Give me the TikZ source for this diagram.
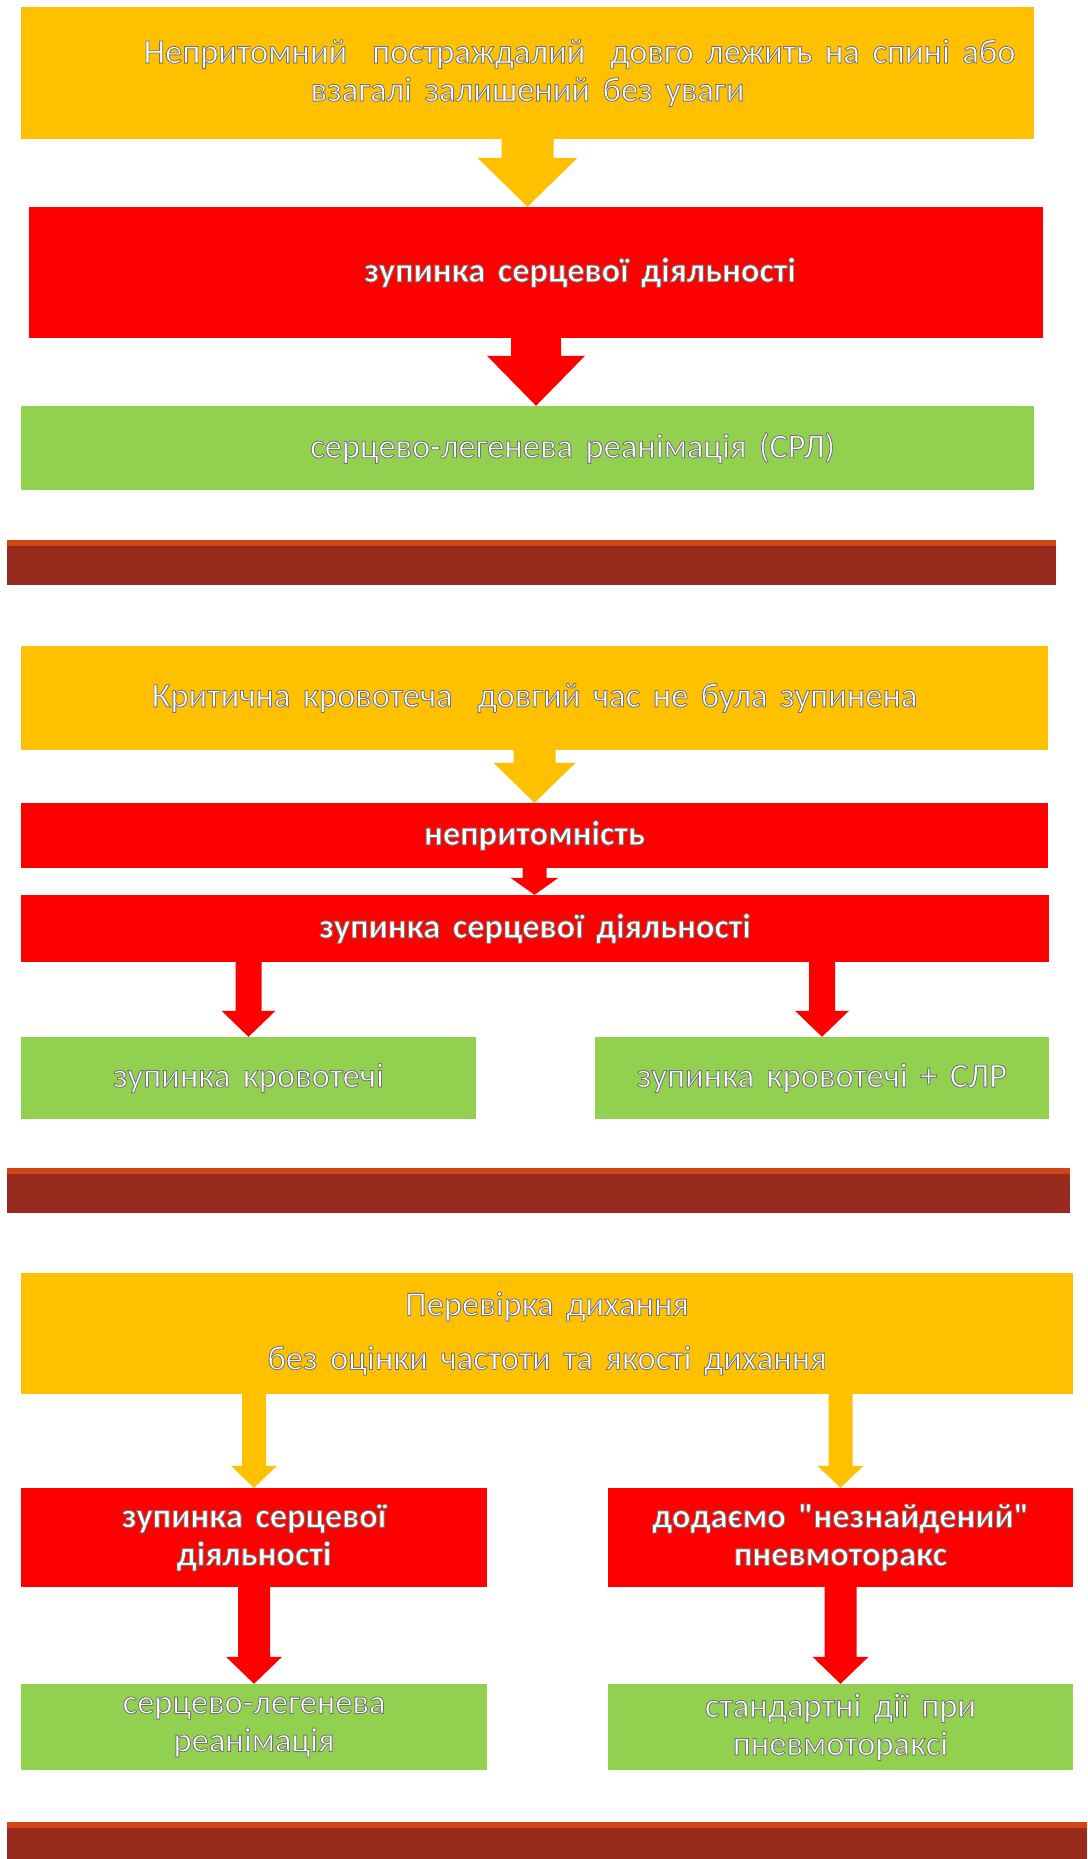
\documentclass[tikz,border=0pt]{standalone}
\usepackage{fontspec}
\setmainfont{Carlito}
\newfontface\glowreg{Carlito}[FakeBold=2.5, WordSpace=1.6]
\newfontface\glowbold{Carlito Bold}[FakeBold=2.5, WordSpace=1.6]
\usetikzlibrary{calc}

\definecolor{yelcol}{RGB}{255,192,0}
\definecolor{redcol}{RGB}{255,0,0}
\definecolor{grncol}{RGB}{146,208,80}
\definecolor{sepdark}{RGB}{153,43,30}
\definecolor{seporange}{RGB}{208,70,20}

% block arrow: colour, start, end, half shaft, half head, head length
\newcommand{\blockarrow}[6]{%
  \fill[#1] ($(#2)+(-#4,0)$) -- ($(#3)+(-#4,-#6)$) -- ($(#3)+(-#5,-#6)$) -- (#3)
    -- ($(#3)+(#5,-#6)$) -- ($(#3)+(#4,-#6)$) -- ($(#2)+(#4,0)$) -- cycle;}

\tikzset{
  box/.style={rectangle, inner sep=0pt, align=center,
    execute at begin node=\special{pdf:bcolor [1] [0.45]},
    execute at end node=\special{pdf:ecolor}},
  ybox/.style={box, fill=yelcol, font=\glowreg\fontsize{34.5}{38}\selectfont},
  rbox/.style={box, fill=redcol, font=\glowbold\fontsize{34.5}{38}\selectfont},
  gbox/.style={box, fill=grncol, font=\glowreg\fontsize{34.5}{38}\selectfont}
}

\begin{document}
\begin{tikzpicture}[x=1pt,y=-1pt]
  \useasboundingbox (0,0) rectangle (1087,1859);

  % first case
  \node[ybox, minimum width=1013pt, minimum height=132pt] (Y1) at (527.5,73)
    {\hspace*{104pt}Непритомний\ \ постраждалий\ \ довго лежить на спині або\\взагалі залишений без уваги};
  \node[rbox, minimum width=1014pt, minimum height=131pt] (R1) at (536,272.5)
    {\hspace*{88pt}зупинка серцевої діяльності};
  \node[gbox, minimum width=1013pt, minimum height=84pt] (G1) at (527.5,448)
    {\hspace*{90pt}серцево-легенева реанімація (СРЛ)};
  \blockarrow{yelcol}{Y1.south}{Y1.south |- R1.north}{26}{50}{49}
  \blockarrow{redcol}{R1.south}{R1.south |- G1.north}{25}{49}{50}

  \fill[sepdark] (7,540) rectangle (1056,585);
  \fill[seporange] (7,540) rectangle (1056,546);

  % second case
  \node[ybox, minimum width=1027pt, minimum height=104pt] (Y2) at (534.5,698)
    {Критична кровотеча\ \ довгий час не була зупинена};
  \node[rbox, minimum width=1027pt, minimum height=65pt] (R2a) at (534.5,835.5)
    {непритомність};
  \node[rbox, minimum width=1028pt, minimum height=67pt] (R2b) at (535,928.5)
    {зупинка серцевої діяльності};
  \node[gbox, minimum width=455pt, minimum height=82pt] (G2a) at (248.5,1078)
    {зупинка кровотечі};
  \node[gbox, minimum width=454pt, minimum height=82pt] (G2b) at (822,1078)
    {зупинка кровотечі + СЛР};
  \blockarrow{yelcol}{Y2.south}{Y2.south |- R2a.north}{21}{41}{40}
  \blockarrow{redcol}{R2a.south}{R2a.south |- R2b.north}{12}{24}{17}
  \blockarrow{redcol}{G2a.north |- R2b.south}{G2a.north}{13}{27}{26}
  \blockarrow{redcol}{G2b.north |- R2b.south}{G2b.north}{13}{27}{26}

  \fill[sepdark] (7,1168) rectangle (1070,1213);
  \fill[seporange] (7,1168) rectangle (1070,1174);

  % third case
  \node[ybox, minimum width=1052pt, minimum height=121pt] (Y3) at (547,1333.5)
    {Перевірка дихання\\[16pt]без оцінки частоти та якості дихання};
  \node[rbox, minimum width=466pt, minimum height=99pt] (R3a) at (254,1537.5)
    {зупинка серцевої\\діяльності};
  \node[rbox, minimum width=465pt, minimum height=99pt] (R3b) at (840.5,1537.5)
    {додаємо "незнайдений"\\пневмоторакс};
  \node[gbox, minimum width=466pt, minimum height=86pt] (G3a) at (254,1727)
    {серцево-легенева\\реанімація};
  \node[gbox, minimum width=465pt, minimum height=86pt] (G3b) at (840.5,1727)
    {стандартні дії при\\пневмотораксі};
  \blockarrow{yelcol}{R3a.north |- Y3.south}{R3a.north}{12}{23}{22}
  \blockarrow{yelcol}{R3b.north |- Y3.south}{R3b.north}{12}{23}{22}
  \blockarrow{redcol}{R3a.south}{R3a.south |- G3a.north}{16}{28}{27}
  \blockarrow{redcol}{R3b.south}{R3b.south |- G3b.north}{16}{28}{27}

  \fill[sepdark] (7,1822) rectangle (1087,1859);
  \fill[seporange] (7,1822) rectangle (1087,1828);
\end{tikzpicture}
\end{document}
